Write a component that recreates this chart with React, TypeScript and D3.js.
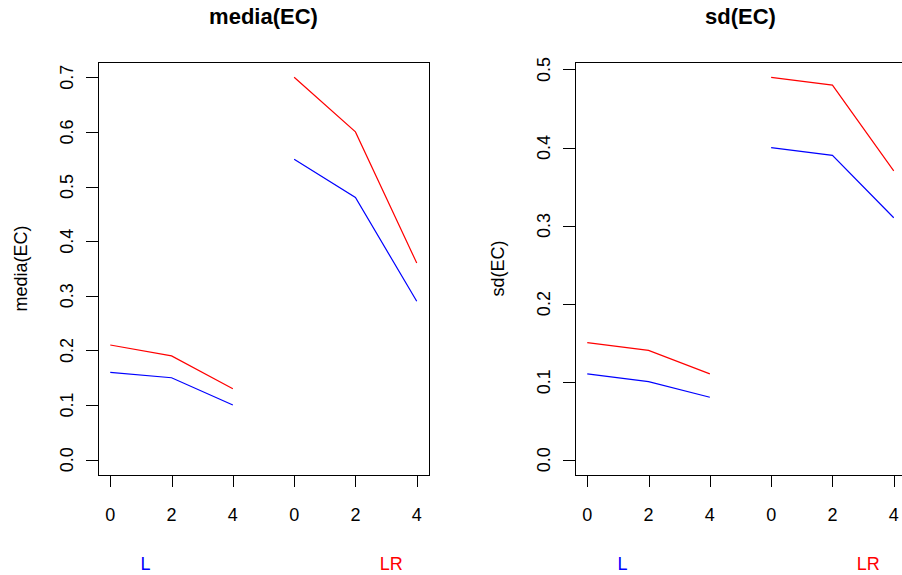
import React from "react";
import * as d3 from "d3";

// ---- data ----
const xPositions = [0, 2, 4, 6, 8, 10];
const xTickLabels = ["0", "2", "4", "0", "2", "4"];
const groupNames = ["L", "LR"];
const groupLabelAt = [1.15, 9.17];
const groupIndex = [[0, 1, 2], [3, 4, 5]];

const mediaBlue = [0.16, 0.15, 0.10, 0.55, 0.48, 0.29];
const mediaRed = [0.21, 0.19, 0.13, 0.70, 0.60, 0.36];
const sdBlue = [0.11, 0.10, 0.08, 0.40, 0.39, 0.31];
const sdRed = [0.15, 0.14, 0.11, 0.49, 0.48, 0.37];

const panelTitles = ["media(EC)", "sd(EC)"];
const mediaTicks = [0, 0.1, 0.2, 0.3, 0.4, 0.5, 0.6, 0.7];
const sdTicks = [0, 0.1, 0.2, 0.3, 0.4, 0.5];

// ---- styles / layout ----
const W = 902;
const H = 575;
const FONT = "'Liberation Sans', Arial, sans-serif";
const BLUE = "#0000FF";
const RED = "#FF0000";
const groupColors = [BLUE, RED];
const plotTop = 62;
const plotBottom = 475;
const plotWidth = 331;
const plotLefts = [98, 575];

type PanelProps = {
  left: number;
  title: string;
  blue: number[];
  red: number[];
  ticks: number[];
};

function Panel({ left, title, blue, red, ticks }: PanelProps) {
  const xExt = d3.extent(xPositions) as [number, number];
  const xr = xExt[1] - xExt[0];
  const x = d3
    .scaleLinear()
    .domain([xExt[0] - 0.04 * xr, xExt[1] + 0.04 * xr])
    .range([left, left + plotWidth]);
  const yMax = d3.max([...blue, ...red]) as number;
  const yMin = 0;
  const yr = yMax - yMin;
  const y = d3
    .scaleLinear()
    .domain([yMin - 0.04 * yr, yMax + 0.04 * yr])
    .range([plotBottom, plotTop]);

  const line = d3
    .line<number>()
    .x((i) => x(xPositions[i]))
    .y((i) => 0);

  const seriesPath = (vals: number[], idx: number[]) =>
    d3
      .line<number>()
      .x((i) => x(xPositions[i]))
      .y((i) => y(vals[i]))(idx) as string;

  const cx = left + plotWidth / 2;
  const cy = (plotTop + plotBottom) / 2;
  void line;

  return (
    <g>
      <text
        x={cx}
        y={24}
        textAnchor="middle"
        fontFamily={FONT}
        fontWeight="bold"
        fontSize={22}
        fill="#000"
      >
        {title}
      </text>
      <rect
        x={left + 0.5}
        y={plotTop + 0.5}
        width={plotWidth}
        height={plotBottom - plotTop}
        fill="none"
        stroke="#000"
        strokeWidth={1}
      />
      {/* y axis ticks */}
      {ticks.map((t) => (
        <g key={"yt" + t}>
          <line
            x1={left - 12}
            x2={left}
            y1={Math.round(y(t)) + 0.5}
            y2={Math.round(y(t)) + 0.5}
            stroke="#000"
          />
          <text
            transform={`translate(${left - 25.5},${y(t)}) rotate(-90)`}
            textAnchor="middle"
            fontFamily={FONT}
            fontSize={18}
            fill="#000"
          >
            {t.toFixed(1)}
          </text>
        </g>
      ))}
      {/* x axis ticks */}
      {xPositions.map((p, i) => (
        <g key={"xt" + i}>
          <line
            x1={Math.round(x(p)) + 0.5}
            x2={Math.round(x(p)) + 0.5}
            y1={plotBottom}
            y2={plotBottom + 12}
            stroke="#000"
          />
          <text
            x={x(p)}
            y={521}
            textAnchor="middle"
            fontFamily={FONT}
            fontSize={18}
            fill="#000"
          >
            {xTickLabels[i]}
          </text>
        </g>
      ))}
      {/* y label */}
      <text
        transform={`translate(${left - 71},${cy}) rotate(-90)`}
        textAnchor="middle"
        fontFamily={FONT}
        fontSize={18}
        fill="#000"
      >
        {title}
      </text>
      {/* group labels */}
      {groupNames.map((g, gi) => (
        <text
          key={g}
          x={x(groupLabelAt[gi])}
          y={570}
          textAnchor="middle"
          fontFamily={FONT}
          fontSize={18}
          fill={groupColors[gi]}
        >
          {g}
        </text>
      ))}
      {/* series */}
      {groupIndex.map((idx, gi) => (
        <g key={"s" + gi}>
          <path d={seriesPath(red, idx)} fill="none" stroke={RED} strokeWidth={1.2} />
          <path d={seriesPath(blue, idx)} fill="none" stroke={BLUE} strokeWidth={1.2} />
        </g>
      ))}
    </g>
  );
}

export default function App() {
  return (
    <svg
      width={W}
      height={H}
      style={{ position: "absolute", left: 0, top: 0, background: "#fff" }}
    >
      <rect x={0} y={0} width={W} height={H} fill="#fff" />
      <Panel left={plotLefts[0]} title={panelTitles[0]} blue={mediaBlue} red={mediaRed} ticks={mediaTicks} />
      <Panel left={plotLefts[1]} title={panelTitles[1]} blue={sdBlue} red={sdRed} ticks={sdTicks} />
    </svg>
  );
}
